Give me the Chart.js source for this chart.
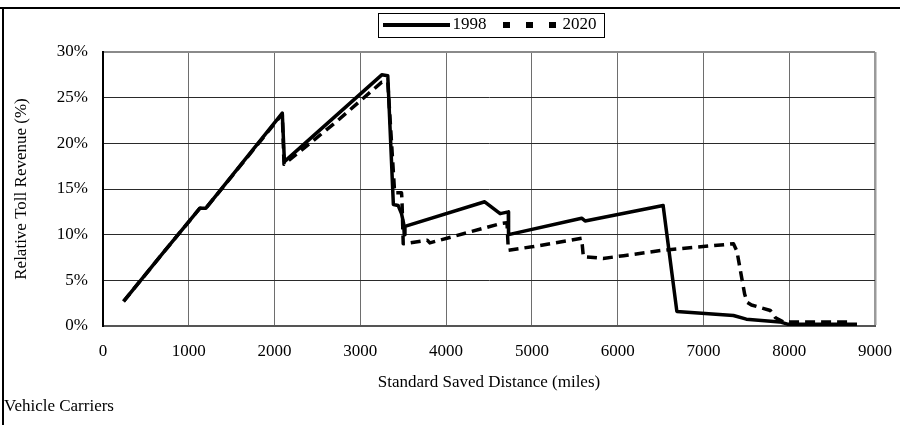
<!DOCTYPE html>
<html>
<head>
<meta charset="utf-8">
<script src="https://cdn.jsdelivr.net/npm/chart.js@4.4.1/dist/chart.umd.min.js"></script>
<style>
  html, body { margin: 0; padding: 0; background: #fff; }
</style>
</head>
<body>
<canvas id="toll-chart" width="900" height="425"></canvas>
<script>
// saved distance (miles) vs relative toll revenue (%)
const miles1998 = [240, 700, 1130, 1200, 2090, 2115, 3250, 3320, 3385, 3440, 3480, 3505, 3512, 3520, 4450, 4630, 4725, 4728, 5580, 5620, 6530, 6690, 7350, 7500, 7890, 7980, 8790];
const toll1998  = [2.7, 8.0, 12.9, 12.9, 23.3, 18.0, 27.5, 27.4, 13.3, 13.2, 12.3, 11.2, 10.0, 10.9, 13.6, 12.3, 12.5, 10.0, 11.8, 11.5, 13.2, 1.6, 1.15, 0.75, 0.45, 0.2, 0.2];

const miles2020 = [240, 700, 1130, 1200, 2090, 2110, 2700, 3250, 3320, 3400, 3480, 3485, 3500, 3780, 3810, 4630, 4710, 4725, 5020, 5580, 5600, 5830, 6070, 6530, 7350, 7390, 7480, 7510, 7560, 7780, 7840, 7930, 8700];
const toll2020  = [2.7, 8.0, 12.9, 12.9, 23.2, 17.7, 22.2, 26.7, 26.7, 14.6, 14.6, 13.9, 9.0, 9.4, 9.1, 11.2, 11.3, 8.3, 8.7, 9.6, 7.6, 7.4, 7.7, 8.3, 9.0, 8.2, 3.5, 2.6, 2.3, 1.7, 0.9, 0.45, 0.45];

const xTicks = [0, 1000, 2000, 3000, 4000, 5000, 6000, 7000, 8000, 9000];
const yTicks = [0, 5, 10, 15, 20, 25, 30];

const serif = "'Liberation Serif', 'Times New Roman', serif";
const fontSize = 17;
Chart.defaults.font.family = serif;
Chart.defaults.font.size = fontSize;
Chart.defaults.color = '#000';

function toPoints(xs, ys) {
  return xs.map((x, i) => ({ x: x, y: ys[i] }));
}

// small line samples used as the legend point styles
function legendGlyph(dashed) {
  const c = document.createElement('canvas');
  c.width = 67;
  c.height = 8;
  const g = c.getContext('2d');
  g.strokeStyle = '#000';
  g.beginPath();
  if (dashed) {
    g.lineWidth = 6;
    g.setLineDash([7, 16]);
    g.moveTo(10, 4);
  } else {
    g.lineWidth = 4;
    g.moveTo(0, 4);
  }
  g.lineTo(67, 4);
  g.stroke();
  return c;
}

// outer frame lines + box round the legend, legend moved over the plot centre
const frame = {
  id: 'frame',
  beforeInit(chart) {
    const fit = chart.legend.fit;
    chart.legend.fit = function () {
      fit.call(this);
      this.height = 48;
    };
  },
  afterUpdate(chart) {
    const lg = chart.legend;
    const dx = 492.75 - (lg.left + lg.right) / 2;
    lg.left += dx;
    lg.right += dx;
    lg.legendHitBoxes.forEach(hb => { hb.left += dx; });
  },
  afterDraw(chart) {
    const ctx = chart.ctx;
    const hb = chart.legend.legendHitBoxes;
    const last = hb[hb.length - 1];
    const l = Math.round(hb[0].left - 11) + 0.5;
    const r = Math.round(last.left + last.width + 7.5) + 0.5;
    const t = Math.round(hb[0].top - 3.5) + 0.5;
    const b = Math.round(hb[0].top + hb[0].height + 3.5) + 0.5;
    ctx.save();
    ctx.setLineDash([]);
    ctx.strokeStyle = '#000';
    ctx.lineWidth = 1;
    ctx.strokeRect(l, t, r - l, b - t);
    ctx.lineWidth = 2;
    ctx.beginPath();
    ctx.moveTo(0, 8);
    ctx.lineTo(chart.width, 8);
    ctx.moveTo(3, 8);
    ctx.lineTo(3, chart.height);
    ctx.stroke();
    ctx.restore();
  }
};

new Chart(document.getElementById('toll-chart'), {
  type: 'line',
  data: {
    datasets: [
      {
        label: '1998',
        data: toPoints(miles1998, toll1998),
        borderColor: '#000',
        backgroundColor: '#000',
        borderWidth: 3.5,
        borderJoinStyle: 'round',
        pointRadius: 0,
        pointStyle: legendGlyph(false),
        tension: 0,
        order: 2
      },
      {
        label: '2020',
        data: toPoints(miles2020, toll2020),
        borderColor: '#000',
        backgroundColor: '#000',
        borderWidth: 3.5,
        borderDash: [10, 6],
        borderJoinStyle: 'round',
        pointRadius: 0,
        pointStyle: legendGlyph(true),
        tension: 0,
        order: 1
      }
    ]
  },
  options: {
    responsive: false,
    animation: false,
    events: [],
    layout: { padding: { top: 4, left: 4, right: 25, bottom: 0 } },
    plugins: {
      tooltip: { enabled: false },
      legend: {
        position: 'top',
        labels: {
          usePointStyle: true,
          pointStyleWidth: 55,
          padding: 12.5,
          color: '#000',
          font: { family: serif, size: fontSize },
          sort: (a, b) => a.datasetIndex - b.datasetIndex
        }
      },
      subtitle: {
        display: true,
        text: 'Vehicle Carriers',
        position: 'bottom',
        align: 'start',
        color: '#000',
        font: { family: serif, size: fontSize, weight: 'normal' },
        padding: { top: 2, bottom: 7.8 }
      }
    },
    scales: {
      x: {
        type: 'linear',
        min: 0,
        max: 9000,
        afterBuildTicks: axis => { axis.ticks = xTicks.map(v => ({ value: v })); },
        afterFit: axis => {
          axis.height = 68.8;
          axis.paddingLeft = 0;
          axis.paddingRight = 0;
        },
        ticks: {
          padding: 15.8,
          color: '#000',
          font: { family: serif, size: fontSize },
          callback: v => String(v)
        },
        grid: {
          drawTicks: false,
          color: c => (c.tick && c.tick.value === 9000) ? '#9a9a9a' : '#6e6e6e',
          lineWidth: c => (c.tick && c.tick.value === 9000) ? 2.5 : 1
        },
        border: { color: '#555', width: 2 },
        title: {
          display: true,
          text: 'Standard Saved Distance (miles)',
          color: '#000',
          font: { family: serif, size: fontSize },
          padding: { top: 0, bottom: 1.6 }
        }
      },
      y: {
        min: 0,
        max: 30,
        afterBuildTicks: axis => { axis.ticks = yTicks.map(v => ({ value: v })); },
        afterFit: axis => { axis.width = 99; },
        ticks: {
          padding: 15,
          color: '#000',
          font: { family: serif, size: fontSize },
          callback: v => v + '%'
        },
        grid: {
          drawTicks: false,
          color: c => (c.tick && c.tick.value === 30) ? '#8a8a8a' : '#2a2a2a',
          lineWidth: c => (c.tick && c.tick.value === 30) ? 2 : 1
        },
        border: { color: '#000', width: 2 },
        title: {
          display: true,
          text: 'Relative Toll Revenue (%)',
          color: '#000',
          font: { family: serif, size: fontSize },
          padding: { top: 7.8, bottom: 0 }
        }
      }
    }
  },
  plugins: [frame]
});
</script>
</body>
</html>
